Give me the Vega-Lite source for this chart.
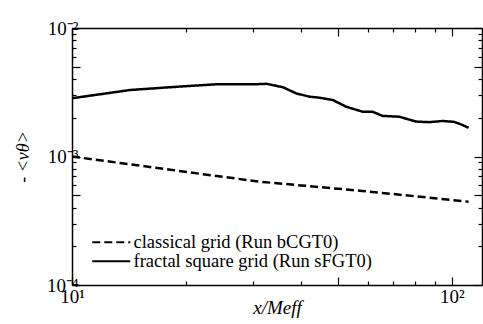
{
  "$schema": "https://vega.github.io/schema/vega-lite/v6.json",
  "width": 410,
  "height": 257,
  "autosize": {"type": "none"},
  "padding": {"left": 72, "top": 28, "right": 1, "bottom": 39},
  "background": "white",
  "config": {
    "view": {"stroke": null},
    "font": "'Liberation Serif', 'Times New Roman', serif",
    "axis": {"labelFont": "'Liberation Serif', 'Times New Roman', serif", "titleFont": "'Liberation Serif', 'Times New Roman', serif", "domainColor": "black", "domainWidth": 1.5, "tickColor": "black", "tickWidth": 1.2, "grid": false, "labelColor": "black", "titleColor": "black"},
    "legend": {"labelFont": "'Liberation Serif', 'Times New Roman', serif"}
  },
  "data": {"values": [
    {"series": "classical grid (Run bCGT0)", "x": 10, "y": 0.00100},
    {"series": "classical grid (Run bCGT0)", "x": 13, "y": 0.00090},
    {"series": "classical grid (Run bCGT0)", "x": 17, "y": 0.00081},
    {"series": "classical grid (Run bCGT0)", "x": 22, "y": 0.00073},
    {"series": "classical grid (Run bCGT0)", "x": 31.2, "y": 0.000637},
    {"series": "classical grid (Run bCGT0)", "x": 40, "y": 0.000596},
    {"series": "classical grid (Run bCGT0)", "x": 57.1, "y": 0.000542},
    {"series": "classical grid (Run bCGT0)", "x": 75, "y": 0.000500},
    {"series": "classical grid (Run bCGT0)", "x": 90, "y": 0.000473},
    {"series": "classical grid (Run bCGT0)", "x": 110.6, "y": 0.000445},
    {"series": "fractal square grid (Run sFGT0)", "x": 10, "y": 0.00284},
    {"series": "fractal square grid (Run sFGT0)", "x": 14.2, "y": 0.00329},
    {"series": "fractal square grid (Run sFGT0)", "x": 18.1, "y": 0.00346},
    {"series": "fractal square grid (Run sFGT0)", "x": 24.0, "y": 0.00365},
    {"series": "fractal square grid (Run sFGT0)", "x": 30.6, "y": 0.00365},
    {"series": "fractal square grid (Run sFGT0)", "x": 32.5, "y": 0.00368},
    {"series": "fractal square grid (Run sFGT0)", "x": 35.9, "y": 0.00346},
    {"series": "fractal square grid (Run sFGT0)", "x": 38.9, "y": 0.00310},
    {"series": "fractal square grid (Run sFGT0)", "x": 42.2, "y": 0.00292},
    {"series": "fractal square grid (Run sFGT0)", "x": 44.8, "y": 0.00287},
    {"series": "fractal square grid (Run sFGT0)", "x": 48.6, "y": 0.00275},
    {"series": "fractal square grid (Run sFGT0)", "x": 52.7, "y": 0.00244},
    {"series": "fractal square grid (Run sFGT0)", "x": 58.2, "y": 0.00223},
    {"series": "fractal square grid (Run sFGT0)", "x": 61.8, "y": 0.00223},
    {"series": "fractal square grid (Run sFGT0)", "x": 65.7, "y": 0.00207},
    {"series": "fractal square grid (Run sFGT0)", "x": 72.7, "y": 0.00204},
    {"series": "fractal square grid (Run sFGT0)", "x": 80.4, "y": 0.00187},
    {"series": "fractal square grid (Run sFGT0)", "x": 87.2, "y": 0.00185},
    {"series": "fractal square grid (Run sFGT0)", "x": 94.5, "y": 0.00189},
    {"series": "fractal square grid (Run sFGT0)", "x": 101.4, "y": 0.00186},
    {"series": "fractal square grid (Run sFGT0)", "x": 106.6, "y": 0.00176},
    {"series": "fractal square grid (Run sFGT0)", "x": 110.6, "y": 0.00167}
  ]},
  "layer": [
    {
      "mark": {"type": "line", "color": "black", "strokeWidth": 2.5, "clip": true},
      "encoding": {
        "x": {"field": "x", "type": "quantitative",
          "scale": {"type": "log", "domain": [10, 120], "nice": false},
          "axis": {"orient": "bottom", "title": "x/Meff", "titleFontStyle": "italic", "titleFontWeight": "normal", "titleFontSize": 19, "titlePadding": -12,
            "values": [10, 20, 30, 40, 50, 60, 70, 80, 90, 100],
            "labelExpr": "datum.value == 10 ? '10¹' : datum.value == 100 ? '10²' : ''",
            "labelFontSize": 19, "labelFlush": false, "labelOverlap": false, "labelPadding": 10,
            "tickSize": {"condition": {"test": "datum.value == 10 || datum.value == 50 || datum.value == 100", "value": -8}, "value": -4}}},
        "y": {"field": "y", "type": "quantitative",
          "scale": {"type": "log", "domain": [0.0001, 0.01], "nice": false},
          "axis": {"orient": "left", "title": "- <νθ>", "titleFontStyle": "italic", "titleFontWeight": "normal", "titleFontSize": 18, "titlePadding": 14,
            "values": [0.0001, 0.0002, 0.0003, 0.0004, 0.0005, 0.0006, 0.0007, 0.0008, 0.0009, 0.001, 0.002, 0.003, 0.004, 0.005, 0.006, 0.007, 0.008, 0.009, 0.01],
            "labelExpr": "abs(datum.value - 0.01) < 1e-9 ? '10⁻²' : abs(datum.value - 0.001) < 1e-10 ? '10⁻³' : abs(datum.value - 0.0001) < 1e-11 ? '10⁻⁴' : ''",
            "labelFontSize": 19, "labelFlush": false, "labelOverlap": false, "labelPadding": 2,
            "tickSize": {"condition": {"test": "abs(datum.value - 0.01) < 1e-9 || abs(datum.value - 0.005) < 1e-9 || abs(datum.value - 0.001) < 1e-10 || abs(datum.value - 0.0005) < 1e-10 || abs(datum.value - 0.0001) < 1e-11", "value": -8}, "value": -4}}},
        "strokeDash": {"field": "series", "type": "nominal",
          "scale": {"domain": ["classical grid (Run bCGT0)", "fractal square grid (Run sFGT0)"], "range": [[8, 4], [1, 0]]},
          "legend": {"title": null, "orient": "none", "legendX": 30, "legendY": 205, "labelFontSize": 18.5, "labelColor": "black", "labelLimit": 0, "symbolType": "M-3,0H3", "symbolSize": 160, "symbolStrokeColor": "black", "symbolStrokeWidth": 2, "rowPadding": -1, "labelOffset": 13, "padding": 0}}
      }
    },
    {
      "mark": {"type": "line", "opacity": 0},
      "encoding": {
        "x": {"field": "x", "type": "quantitative",
          "scale": {"type": "log", "domain": [10, 120], "nice": false},
          "axis": {"orient": "top", "title": null, "labels": false,
            "values": [10, 20, 30, 40, 50, 60, 70, 80, 90, 100],
            "tickSize": {"condition": {"test": "datum.value == 10 || datum.value == 50 || datum.value == 100", "value": -8}, "value": -4}}},
        "y": {"field": "y", "type": "quantitative",
          "scale": {"type": "log", "domain": [0.0001, 0.01], "nice": false},
          "axis": {"orient": "right", "title": null, "labels": false,
            "values": [0.0001, 0.0002, 0.0003, 0.0004, 0.0005, 0.0006, 0.0007, 0.0008, 0.0009, 0.001, 0.002, 0.003, 0.004, 0.005, 0.006, 0.007, 0.008, 0.009, 0.01],
            "tickSize": {"condition": {"test": "abs(datum.value - 0.01) < 1e-9 || abs(datum.value - 0.005) < 1e-9 || abs(datum.value - 0.001) < 1e-10 || abs(datum.value - 0.0005) < 1e-10 || abs(datum.value - 0.0001) < 1e-11", "value": -8}, "value": -4}}}
      }
    }
  ],
  "resolve": {"axis": {"x": "independent", "y": "independent"}}
}
